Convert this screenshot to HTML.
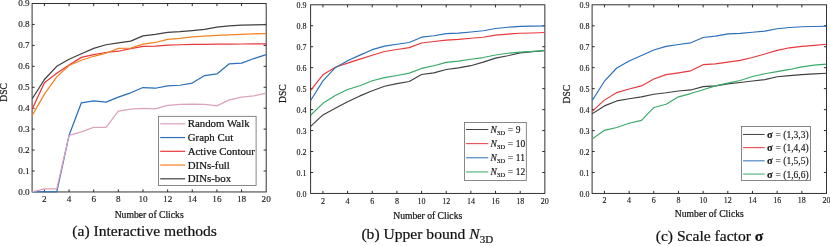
<!DOCTYPE html>
<html><head><meta charset="utf-8"><title>Figure</title>
<style>
html,body{margin:0;padding:0;background:#fff;}
body{width:830px;height:246px;position:relative;overflow:hidden;font-family:"Liberation Serif",serif;}
svg text{font-family:"Liberation Serif",serif;fill:#151515;stroke:#151515;stroke-width:0.22px;}
.tl text{stroke-width:0.12px;font-size:8px;}
#chart1 .tl text{font-size:9.2px;}
.xl{font-size:9.65px;}
.lg1{font-size:10.85px;}
.lg2{font-size:9.5px;stroke-width:0.15px;}
.lg2 .sub{font-size:6.9px;}
.cap{font-size:15.6px;fill:#111;}
</style></head><body>
<svg width="830" height="246" viewBox="0 0 830 246" style="position:absolute;left:0;top:0">
<g id="chart1">
<clipPath id="cp0"><rect x="32.1" y="3.5" width="234.1" height="189.25"/></clipPath>
<rect x="32.1" y="3.5" width="234.10" height="188.45" fill="none" stroke="#333333" stroke-width="1"/>
<path d="M44.42 191.95v-2.6M44.42 3.5v2.6M69.06 191.95v-2.6M69.06 3.5v2.6M93.71 191.95v-2.6M93.71 3.5v2.6M118.35 191.95v-2.6M118.35 3.5v2.6M142.99 191.95v-2.6M142.99 3.5v2.6M167.63 191.95v-2.6M167.63 3.5v2.6M192.27 191.95v-2.6M192.27 3.5v2.6M216.92 191.95v-2.6M216.92 3.5v2.6M241.56 191.95v-2.6M241.56 3.5v2.6M32.1 171.01h2.6M266.2 171.01h-2.6M32.1 150.07h2.6M266.2 150.07h-2.6M32.1 129.13h2.6M266.2 129.13h-2.6M32.1 108.19h2.6M266.2 108.19h-2.6M32.1 87.26h2.6M266.2 87.26h-2.6M32.1 66.32h2.6M266.2 66.32h-2.6M32.1 45.38h2.6M266.2 45.38h-2.6M32.1 24.44h2.6M266.2 24.44h-2.6" stroke="#222" stroke-width="0.95" fill="none"/>
<g clip-path="url(#cp0)" fill="none" stroke-width="1.25" stroke-linejoin="round">
<polyline points="32.10,191.95 44.42,191.95 56.74,191.95 69.06,135.33 81.38,102.77 93.71,100.91 106.03,102.06 118.35,97.08 130.67,92.80 142.99,87.55 155.31,88.24 167.63,85.96 179.95,85.25 192.27,83.07 204.59,75.59 216.92,73.90 229.24,63.80 241.56,63.07 253.88,58.53 266.20,54.67" stroke="#2a6ebb"/>
<polyline points="32.10,191.95 44.42,188.91 56.74,188.91 69.06,135.33 81.38,131.92 93.71,127.35 106.03,127.35 118.35,111.02 130.67,109.18 142.99,108.47 155.31,108.86 167.63,105.30 179.95,104.47 192.27,104.17 204.59,104.47 216.92,105.89 229.24,99.90 241.56,97.05 253.88,95.92 266.20,93.22" stroke="#dba3bd"/>
<polyline points="32.10,109.18 44.42,82.65 56.74,73.33 69.06,65.06 81.38,57.40 93.71,54.59 106.03,52.50 118.35,51.24 130.67,48.60 142.99,46.47 155.31,46.03 167.63,45.02 179.95,44.75 192.27,44.46 204.59,44.31 216.92,44.16 229.24,44.04 241.56,44.00 253.88,43.93 266.20,43.89" stroke="#e8383d"/>
<polyline points="32.10,115.59 44.42,94.17 56.74,76.89 69.06,65.48 81.38,60.24 93.71,56.27 106.03,53.23 118.35,48.31 130.67,48.10 142.99,44.12 155.31,42.49 167.63,39.35 179.95,38.34 192.27,36.79 204.59,36.06 216.92,35.35 229.24,34.78 241.56,34.36 253.88,33.92 266.20,33.51" stroke="#f58220"/>
<polyline points="32.10,99.04 44.42,79.51 56.74,66.32 69.06,59.30 81.38,53.75 93.71,48.31 106.03,44.75 118.35,42.87 130.67,41.19 142.99,35.85 155.31,34.43 167.63,32.29 179.95,31.73 192.27,30.66 204.59,29.42 216.92,27.16 229.24,25.88 241.56,25.07 253.88,24.82 266.20,24.65" stroke="#404040"/>
</g>
<g class="tl" text-anchor="end">
<text x="29.70" y="194.75">0.0</text>
<text x="29.70" y="173.81">0.1</text>
<text x="29.70" y="152.87">0.2</text>
<text x="29.70" y="131.93">0.3</text>
<text x="29.70" y="110.99">0.4</text>
<text x="29.70" y="90.06">0.5</text>
<text x="29.70" y="69.12">0.6</text>
<text x="29.70" y="48.18">0.7</text>
<text x="29.70" y="27.24">0.8</text>
<text x="29.70" y="6.30">0.9</text>
</g>
<g class="tl" text-anchor="middle">
<text x="44.42" y="201.65">2</text>
<text x="69.06" y="201.65">4</text>
<text x="93.71" y="201.65">6</text>
<text x="118.35" y="201.65">8</text>
<text x="142.99" y="201.65">10</text>
<text x="167.63" y="201.65">12</text>
<text x="192.27" y="201.65">14</text>
<text x="216.92" y="201.65">16</text>
<text x="241.56" y="201.65">18</text>
<text x="266.20" y="201.65">20</text>
</g>
<text class="xl" text-anchor="middle" x="149.15" y="217.7">Number of Clicks</text>
<text class="xl" text-anchor="middle" transform="translate(7.2,92.4) rotate(-90)">DSC</text>
</g>
<g id="chart2">
<clipPath id="cp1"><rect x="310.6" y="4.8" width="234.25" height="189.45"/></clipPath>
<rect x="310.6" y="4.8" width="234.25" height="188.65" fill="none" stroke="#333333" stroke-width="1"/>
<path d="M322.93 193.45v-2.6M322.93 4.8v2.6M347.59 193.45v-2.6M347.59 4.8v2.6M372.24 193.45v-2.6M372.24 4.8v2.6M396.90 193.45v-2.6M396.90 4.8v2.6M421.56 193.45v-2.6M421.56 4.8v2.6M446.22 193.45v-2.6M446.22 4.8v2.6M470.88 193.45v-2.6M470.88 4.8v2.6M495.53 193.45v-2.6M495.53 4.8v2.6M520.19 193.45v-2.6M520.19 4.8v2.6M310.6 172.49h2.6M544.85 172.49h-2.6M310.6 151.53h2.6M544.85 151.53h-2.6M310.6 130.57h2.6M544.85 130.57h-2.6M310.6 109.61h2.6M544.85 109.61h-2.6M310.6 88.64h2.6M544.85 88.64h-2.6M310.6 67.68h2.6M544.85 67.68h-2.6M310.6 46.72h2.6M544.85 46.72h-2.6M310.6 25.76h2.6M544.85 25.76h-2.6" stroke="#222" stroke-width="0.95" fill="none"/>
<g clip-path="url(#cp1)" fill="none" stroke-width="1.15" stroke-linejoin="round">
<polyline points="310.60,126.44 322.93,114.95 335.26,108.29 347.59,101.85 359.92,95.90 372.24,90.74 384.57,86.19 396.90,83.66 409.23,81.52 421.56,74.54 433.89,72.82 446.22,69.53 458.55,67.83 470.88,65.69 483.21,62.13 495.53,58.15 507.86,55.71 520.19,52.86 532.52,51.73 544.85,50.73" stroke="#404040"/>
<polyline points="310.60,90.47 322.93,74.83 335.26,67.29 347.59,63.16 359.92,59.15 372.24,55.32 384.57,51.50 396.90,49.51 409.23,47.64 421.56,42.95 433.89,41.52 446.22,40.10 458.55,39.39 470.88,38.23 483.21,37.23 495.53,35.11 507.86,34.10 520.19,33.24 532.52,32.97 544.85,32.53" stroke="#e8383d"/>
<polyline points="310.60,100.45 322.93,80.89 335.26,67.68 347.59,60.66 359.92,55.11 372.24,49.66 384.57,46.09 396.90,44.21 409.23,42.53 421.56,37.18 433.89,35.76 446.22,33.62 458.55,33.06 470.88,31.99 483.21,30.75 495.53,28.49 507.86,27.21 520.19,26.39 532.52,26.14 544.85,25.97" stroke="#2a6ebb"/>
<polyline points="310.60,115.27 322.93,103.30 335.26,95.46 347.59,89.48 359.92,85.77 372.24,80.80 384.57,77.66 396.90,75.52 409.23,73.11 421.56,68.42 433.89,65.69 446.22,62.42 458.55,61.12 470.88,59.28 483.21,57.56 495.53,55.00 507.86,53.28 520.19,52.15 532.52,51.44 544.85,50.43" stroke="#38a968"/>
</g>
<g class="tl" text-anchor="end">
<text x="306.50" y="196.75">0.0</text>
<text x="306.50" y="175.79">0.1</text>
<text x="306.50" y="154.83">0.2</text>
<text x="306.50" y="133.87">0.3</text>
<text x="306.50" y="112.91">0.4</text>
<text x="306.50" y="91.94">0.5</text>
<text x="306.50" y="70.98">0.6</text>
<text x="306.50" y="50.02">0.7</text>
<text x="306.50" y="29.06">0.8</text>
<text x="306.50" y="8.10">0.9</text>
</g>
<g class="tl" text-anchor="middle">
<text x="322.93" y="203.70">2</text>
<text x="347.59" y="203.70">4</text>
<text x="372.24" y="203.70">6</text>
<text x="396.90" y="203.70">8</text>
<text x="421.56" y="203.70">10</text>
<text x="446.22" y="203.70">12</text>
<text x="470.88" y="203.70">14</text>
<text x="495.53" y="203.70">16</text>
<text x="520.19" y="203.70">18</text>
<text x="544.85" y="203.70">20</text>
</g>
<text class="xl" text-anchor="middle" x="427.73" y="218.6">Number of Clicks</text>
<text class="xl" text-anchor="middle" transform="translate(286.3,93.7) rotate(-90)">DSC</text>
</g>
<g id="chart3">
<clipPath id="cp2"><rect x="592.1" y="4.8" width="234.39999999999998" height="189.45"/></clipPath>
<rect x="592.1" y="4.8" width="234.40" height="188.65" fill="none" stroke="#333333" stroke-width="1"/>
<path d="M604.44 193.45v-2.6M604.44 4.8v2.6M629.11 193.45v-2.6M629.11 4.8v2.6M653.78 193.45v-2.6M653.78 4.8v2.6M678.46 193.45v-2.6M678.46 4.8v2.6M703.13 193.45v-2.6M703.13 4.8v2.6M727.81 193.45v-2.6M727.81 4.8v2.6M752.48 193.45v-2.6M752.48 4.8v2.6M777.15 193.45v-2.6M777.15 4.8v2.6M801.83 193.45v-2.6M801.83 4.8v2.6M592.1 172.49h2.6M826.5 172.49h-2.6M592.1 151.53h2.6M826.5 151.53h-2.6M592.1 130.57h2.6M826.5 130.57h-2.6M592.1 109.61h2.6M826.5 109.61h-2.6M592.1 88.64h2.6M826.5 88.64h-2.6M592.1 67.68h2.6M826.5 67.68h-2.6M592.1 46.72h2.6M826.5 46.72h-2.6M592.1 25.76h2.6M826.5 25.76h-2.6" stroke="#222" stroke-width="0.95" fill="none"/>
<g clip-path="url(#cp2)" fill="none" stroke-width="1.15" stroke-linejoin="round">
<polyline points="592.10,113.80 604.44,105.90 616.77,100.93 629.11,98.79 641.45,96.92 653.78,94.22 666.12,92.77 678.46,90.95 690.79,89.94 703.13,86.67 715.47,85.92 727.81,83.93 740.14,82.46 752.48,81.04 764.82,79.61 777.15,76.76 789.49,75.63 801.83,74.62 814.16,73.91 826.50,73.20" stroke="#404040"/>
<polyline points="592.10,111.39 604.44,100.13 616.77,92.59 629.11,89.02 641.45,85.88 653.78,78.94 666.12,74.66 678.46,72.82 690.79,70.83 703.13,64.69 715.47,63.91 727.81,62.07 740.14,60.35 752.48,57.50 764.82,53.93 777.15,50.39 789.49,47.81 801.83,46.39 814.16,45.40 826.50,44.25" stroke="#e8383d"/>
<polyline points="592.10,100.76 604.44,81.20 616.77,68.00 629.11,60.98 641.45,55.42 653.78,49.97 666.12,46.41 678.46,44.52 690.79,42.84 703.13,37.50 715.47,36.07 727.81,33.94 740.14,33.37 752.48,32.30 764.82,31.06 777.15,28.80 789.49,27.52 801.83,26.70 814.16,26.45 826.50,26.29" stroke="#2a6ebb"/>
<polyline points="592.10,139.01 604.44,130.32 616.77,127.46 629.11,123.19 641.45,120.34 653.78,107.55 666.12,104.28 678.46,96.86 690.79,93.57 703.13,89.80 715.47,85.92 727.81,83.09 740.14,80.55 752.48,76.55 764.82,73.72 777.15,71.58 789.49,69.44 801.83,66.89 814.16,65.17 826.50,64.16" stroke="#38a968"/>
</g>
<g class="tl" text-anchor="end">
<text x="589.40" y="196.75">0.0</text>
<text x="589.40" y="175.79">0.1</text>
<text x="589.40" y="154.83">0.2</text>
<text x="589.40" y="133.87">0.3</text>
<text x="589.40" y="112.91">0.4</text>
<text x="589.40" y="91.94">0.5</text>
<text x="589.40" y="70.98">0.6</text>
<text x="589.40" y="50.02">0.7</text>
<text x="589.40" y="29.06">0.8</text>
<text x="589.40" y="8.10">0.9</text>
</g>
<g class="tl" text-anchor="middle">
<text x="604.44" y="202.75">2</text>
<text x="629.11" y="202.75">4</text>
<text x="653.78" y="202.75">6</text>
<text x="678.46" y="202.75">8</text>
<text x="703.13" y="202.75">10</text>
<text x="727.81" y="202.75">12</text>
<text x="752.48" y="202.75">14</text>
<text x="777.15" y="202.75">16</text>
<text x="801.83" y="202.75">18</text>
<text x="826.50" y="202.75">20</text>
</g>
<text class="xl" text-anchor="middle" x="709.30" y="217.0">Number of Clicks</text>
<text class="xl" text-anchor="middle" transform="translate(569.8,94.2) rotate(-90)">DSC</text>
</g>
<g id="legend1">
<rect x="158.4" y="116.3" width="97.70" height="69.10" fill="#fff" stroke="#6a6a6a" stroke-width="0.8"/>
<path d="M160.2 123.80H185.2" stroke="#dba3bd" stroke-width="1.2"/>
<text class="lg1" x="187.7" y="127.30">Random Walk</text>
<path d="M160.2 137.55H185.2" stroke="#2a6ebb" stroke-width="1.2"/>
<text class="lg1" x="187.7" y="141.05">Graph Cut</text>
<path d="M160.2 151.30H185.2" stroke="#e8383d" stroke-width="1.2"/>
<text class="lg1" x="187.7" y="154.80">Active Contour</text>
<path d="M160.2 165.05H185.2" stroke="#f58220" stroke-width="1.2"/>
<text class="lg1" x="187.7" y="168.55">DINs-full</text>
<path d="M160.2 178.80H185.2" stroke="#404040" stroke-width="1.2"/>
<text class="lg1" x="187.7" y="182.30">DINs-box</text>
</g>
<g id="legend2">
<rect x="464.4" y="122.4" width="61.90" height="58.00" fill="#fff" stroke="#6a6a6a" stroke-width="0.8"/>
<path d="M466 129.50H488.3" stroke="#404040" stroke-width="1"/>
<text class="lg2" x="490.5" y="132.70"><tspan font-style="italic">N</tspan><tspan class="sub" dy="2.2">3D</tspan><tspan dy="-2.2" dx="2.6">=</tspan><tspan dx="2.6">9</tspan></text>
<path d="M466 143.65H488.3" stroke="#e8383d" stroke-width="1"/>
<text class="lg2" x="490.5" y="146.85"><tspan font-style="italic">N</tspan><tspan class="sub" dy="2.2">3D</tspan><tspan dy="-2.2" dx="2.6">=</tspan><tspan dx="2.6">10</tspan></text>
<path d="M466 157.80H488.3" stroke="#2a6ebb" stroke-width="1"/>
<text class="lg2" x="490.5" y="161.00"><tspan font-style="italic">N</tspan><tspan class="sub" dy="2.2">3D</tspan><tspan dy="-2.2" dx="2.6">=</tspan><tspan dx="2.6">11</tspan></text>
<path d="M466 171.95H488.3" stroke="#38a968" stroke-width="1"/>
<text class="lg2" x="490.5" y="175.15"><tspan font-style="italic">N</tspan><tspan class="sub" dy="2.2">3D</tspan><tspan dy="-2.2" dx="2.6">=</tspan><tspan dx="2.6">12</tspan></text>
</g>
<g id="legend3">
<rect x="741.5" y="126.5" width="69.10" height="53.90" fill="#fff" stroke="#6a6a6a" stroke-width="0.8"/>
<path d="M743 134.45H764.7" stroke="#404040" stroke-width="1"/>
<text class="lg2" x="767" y="137.95"><tspan font-size="10.4" font-weight="bold">σ</tspan><tspan dx="2.8">=</tspan><tspan dx="2.5">(1,3,3)</tspan></text>
<path d="M743 147.65H764.7" stroke="#e8383d" stroke-width="1"/>
<text class="lg2" x="767" y="151.15"><tspan font-size="10.4" font-weight="bold">σ</tspan><tspan dx="2.8">=</tspan><tspan dx="2.5">(1,4,4)</tspan></text>
<path d="M743 160.85H764.7" stroke="#2a6ebb" stroke-width="1"/>
<text class="lg2" x="767" y="164.35"><tspan font-size="10.4" font-weight="bold">σ</tspan><tspan dx="2.8">=</tspan><tspan dx="2.5">(1,5,5)</tspan></text>
<path d="M743 174.05H764.7" stroke="#38a968" stroke-width="1"/>
<text class="lg2" x="767" y="177.55"><tspan font-size="10.4" font-weight="bold">σ</tspan><tspan dx="2.8">=</tspan><tspan dx="2.5">(1,6,6)</tspan></text>
</g>
<text class="cap" x="72.3" y="236.3">(a) Interactive methods</text>
<text class="cap" x="361.4" y="239.1">(b) Upper bound <tspan font-style="italic">N</tspan><tspan font-size="11" dy="3.9">3D</tspan></text>
<text class="cap" x="655.7" y="240.6">(c) Scale factor <tspan font-weight="bold">σ</tspan></text>
</svg>
</body></html>
